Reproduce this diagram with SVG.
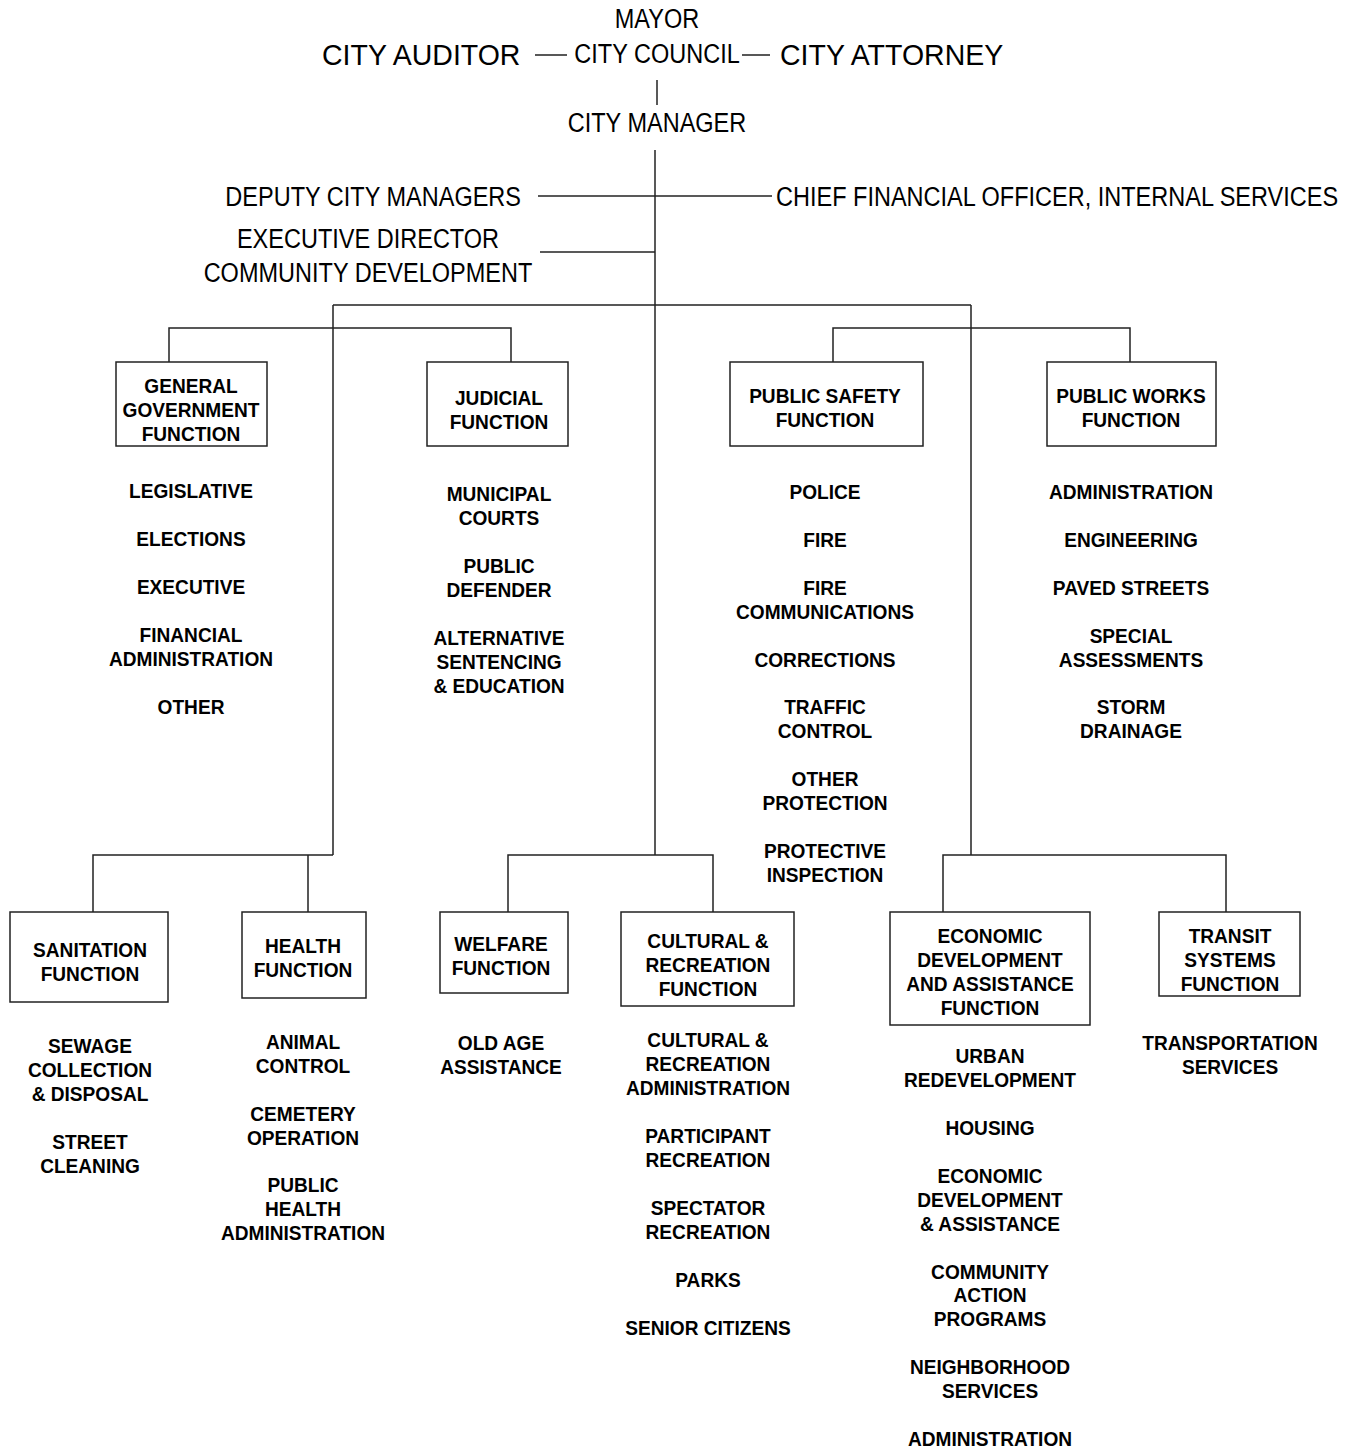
<svg xmlns="http://www.w3.org/2000/svg" width="1356" height="1450" viewBox="0 0 1356 1450">
<style>
.r{font-family:"Liberation Sans",Arial,sans-serif;font-size:28px;fill:#000}
.rl{font-family:"Liberation Sans",Arial,sans-serif;font-size:30px;fill:#000}
.b text{font-family:"Liberation Sans",Arial,sans-serif;font-size:21px;font-weight:bold;fill:#000;text-anchor:middle}
.c{text-anchor:middle}
.e{text-anchor:end}
.box{fill:#fff;stroke:#222;stroke-width:1.5}
.ln{fill:none;stroke:#222;stroke-width:1.5}
</style>
<rect width="1356" height="1450" fill="#fff"/>
<g id="connectors" class="ln">
<path d="M535 55H567M742 55H770"/>
<path d="M657 80V105"/>
<path d="M655 150V855"/>
<path d="M538 196H772"/>
<path d="M540 252H655"/>
<path d="M333 305H971M333 305V855M971 305V855"/>
<path d="M169 362V328H511V362"/>
<path d="M833 362V328H1130V362"/>
<path d="M93 912V855H333M308 855V912"/>
<path d="M508 912V855H713V912"/>
<path d="M943 912V855H1226V912"/>
</g>
<g id="mayor"><text class="r c" transform="matrix(0.84 0 0 1 657 28)">MAYOR</text></g>
<g id="city-council"><text class="r c" transform="matrix(0.84 0 0 1 657 63)">CITY COUNCIL</text></g>
<g id="city-auditor"><text class="rl" transform="matrix(0.95 0 0 1 322 65)">CITY AUDITOR</text></g>
<g id="city-attorney"><text class="rl" transform="matrix(0.95 0 0 1 780 65)">CITY ATTORNEY</text></g>
<g id="city-manager"><text class="r c" transform="matrix(0.84 0 0 1 657 132)">CITY MANAGER</text></g>
<g id="deputy"><text class="r e" transform="matrix(0.84 0 0 1 521 206)">DEPUTY CITY MANAGERS</text></g>
<g id="cfo"><text class="r" transform="matrix(0.84 0 0 1 776 206)">CHIEF FINANCIAL OFFICER, INTERNAL SERVICES</text></g>
<g id="exec-dir"><text class="r c" transform="matrix(0.84 0 0 1 368 248)">EXECUTIVE DIRECTOR</text><text class="r c" transform="matrix(0.84 0 0 1 368 282)">COMMUNITY DEVELOPMENT</text></g>

<g id="general-government">
<rect class="box" x="116" y="362" width="151" height="84"/>
<g class="b" transform="matrix(0.91 0 0 1 191 0)">
<text y="393">GENERAL</text><text y="417">GOVERNMENT</text><text y="441">FUNCTION</text>
<text y="498">LEGISLATIVE</text>
<text y="546">ELECTIONS</text>
<text y="594">EXECUTIVE</text>
<text y="642">FINANCIAL</text><text y="666">ADMINISTRATION</text>
<text y="714">OTHER</text>
</g>
</g>
<g id="judicial">
<rect class="box" x="427" y="362" width="141" height="84"/>
<g class="b" transform="matrix(0.91 0 0 1 499 0)">
<text y="405">JUDICIAL</text><text y="429">FUNCTION</text>
<text y="501">MUNICIPAL</text><text y="525">COURTS</text>
<text y="573">PUBLIC</text><text y="597">DEFENDER</text>
<text y="645">ALTERNATIVE</text><text y="669">SENTENCING</text><text y="693">&amp; EDUCATION</text>
</g>
</g>
<g id="public-safety">
<rect class="box" x="730" y="362" width="193" height="84"/>
<g class="b" transform="matrix(0.91 0 0 1 825 0)">
<text y="403">PUBLIC SAFETY</text><text y="427">FUNCTION</text>
<text y="499">POLICE</text>
<text y="547">FIRE</text>
<text y="595">FIRE</text><text y="619">COMMUNICATIONS</text>
<text y="667">CORRECTIONS</text>
<text y="714">TRAFFIC</text><text y="738">CONTROL</text>
<text y="786">OTHER</text><text y="810">PROTECTION</text>
<text y="858">PROTECTIVE</text><text y="882">INSPECTION</text>
</g>
</g>
<g id="public-works">
<rect class="box" x="1047" y="362" width="169" height="84"/>
<g class="b" transform="matrix(0.91 0 0 1 1131 0)">
<text y="403">PUBLIC WORKS</text><text y="427">FUNCTION</text>
<text y="499">ADMINISTRATION</text>
<text y="547">ENGINEERING</text>
<text y="595">PAVED STREETS</text>
<text y="643">SPECIAL</text><text y="667">ASSESSMENTS</text>
<text y="714">STORM</text><text y="738">DRAINAGE</text>
</g>
</g>

<g id="sanitation">
<rect class="box" x="10" y="912" width="158" height="90"/>
<g class="b" transform="matrix(0.91 0 0 1 90 0)">
<text y="957">SANITATION</text><text y="981">FUNCTION</text>
<text y="1053">SEWAGE</text><text y="1077">COLLECTION</text><text y="1101">&amp; DISPOSAL</text>
<text y="1149">STREET</text><text y="1173">CLEANING</text>
</g>
</g>
<g id="health">
<rect class="box" x="242" y="912" width="124" height="86"/>
<g class="b" transform="matrix(0.91 0 0 1 303 0)">
<text y="953">HEALTH</text><text y="977">FUNCTION</text>
<text y="1049">ANIMAL</text><text y="1073">CONTROL</text>
<text y="1121">CEMETERY</text><text y="1145">OPERATION</text>
<text y="1192">PUBLIC</text><text y="1216">HEALTH</text><text y="1240">ADMINISTRATION</text>
</g>
</g>
<g id="welfare">
<rect class="box" x="440" y="912" width="128" height="81"/>
<g class="b" transform="matrix(0.91 0 0 1 501 0)">
<text y="951">WELFARE</text><text y="975">FUNCTION</text>
<text y="1050">OLD AGE</text><text y="1074">ASSISTANCE</text>
</g>
</g>
<g id="cultural-recreation">
<rect class="box" x="621" y="912" width="173" height="94"/>
<g class="b" transform="matrix(0.91 0 0 1 708 0)">
<text y="948">CULTURAL &amp;</text><text y="972">RECREATION</text><text y="996">FUNCTION</text>
<text y="1047">CULTURAL &amp;</text><text y="1071">RECREATION</text><text y="1095">ADMINISTRATION</text>
<text y="1143">PARTICIPANT</text><text y="1167">RECREATION</text>
<text y="1215">SPECTATOR</text><text y="1239">RECREATION</text>
<text y="1287">PARKS</text>
<text y="1335">SENIOR CITIZENS</text>
</g>
</g>
<g id="economic-development">
<rect class="box" x="890" y="912" width="200" height="113"/>
<g class="b" transform="matrix(0.91 0 0 1 990 0)">
<text y="943">ECONOMIC</text><text y="967">DEVELOPMENT</text><text y="991">AND ASSISTANCE</text><text y="1015">FUNCTION</text>
<text y="1063">URBAN</text><text y="1087">REDEVELOPMENT</text>
<text y="1135">HOUSING</text>
<text y="1183">ECONOMIC</text><text y="1207">DEVELOPMENT</text><text y="1231">&amp; ASSISTANCE</text>
<text y="1279">COMMUNITY</text><text y="1302">ACTION</text><text y="1326">PROGRAMS</text>
<text y="1374">NEIGHBORHOOD</text><text y="1398">SERVICES</text>
<text y="1446">ADMINISTRATION</text>
</g>
</g>
<g id="transit">
<rect class="box" x="1159" y="912" width="141" height="84"/>
<g class="b" transform="matrix(0.91 0 0 1 1230 0)">
<text y="943">TRANSIT</text><text y="967">SYSTEMS</text><text y="991">FUNCTION</text>
<text y="1050">TRANSPORTATION</text><text y="1074">SERVICES</text>
</g>
</g>
</svg>
